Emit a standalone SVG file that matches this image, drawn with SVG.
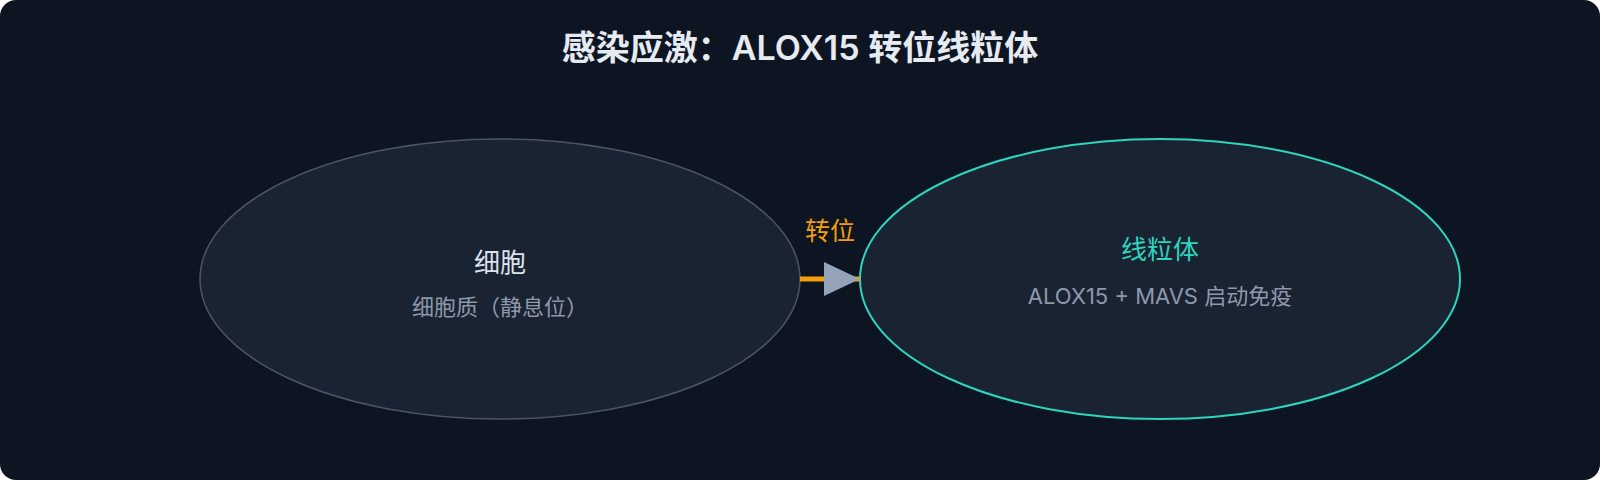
<svg xmlns="http://www.w3.org/2000/svg" width="1600" height="480" viewBox="0 0 1600 480">
<style>
text{font-family:"Inter","Noto Sans CJK SC",sans-serif;text-anchor:middle}
.t{font-size:34px;font-weight:600;fill:#e6ebf2}
.h{font-size:26px}
.s{font-size:22px;fill:#8d99ab}
</style>
<rect width="1600" height="480" rx="16" fill="#0e1522"/>
<text class="t" x="800" y="60">感染应激：ALOX15 转位线粒体</text>
<g id="cytoplasm"><ellipse cx="500" cy="279" rx="300" ry="140" fill="#1a2332" stroke="#4b5563" stroke-width="1.5"/>
<text class="h" x="500" y="272" fill="#dde3ec">细胞</text><text class="s" x="500" y="315">细胞质（静息位）</text></g>
<g id="mito"><ellipse cx="1160" cy="279" rx="300" ry="140" fill="#1a2332" stroke="#2dd4bf" stroke-width="2"/>
<text class="h" x="1160" y="259" fill="#2dd4bf">线粒体</text><text class="s" x="1160" y="304">ALOX15 + MAVS 启动免疫</text></g>
<g id="connectors"><line x1="800" y1="279" x2="824" y2="279" stroke="#f59e0b" stroke-width="5"/>
<line x1="840" y1="279" x2="860" y2="279" stroke="#f59e0b" stroke-width="5"/>
<path d="M824,262L860,279L824,296z" fill="#94a3b8"/>
<text x="830" y="240" font-size="25" fill="#f59e0b">转位</text></g>
</svg>
